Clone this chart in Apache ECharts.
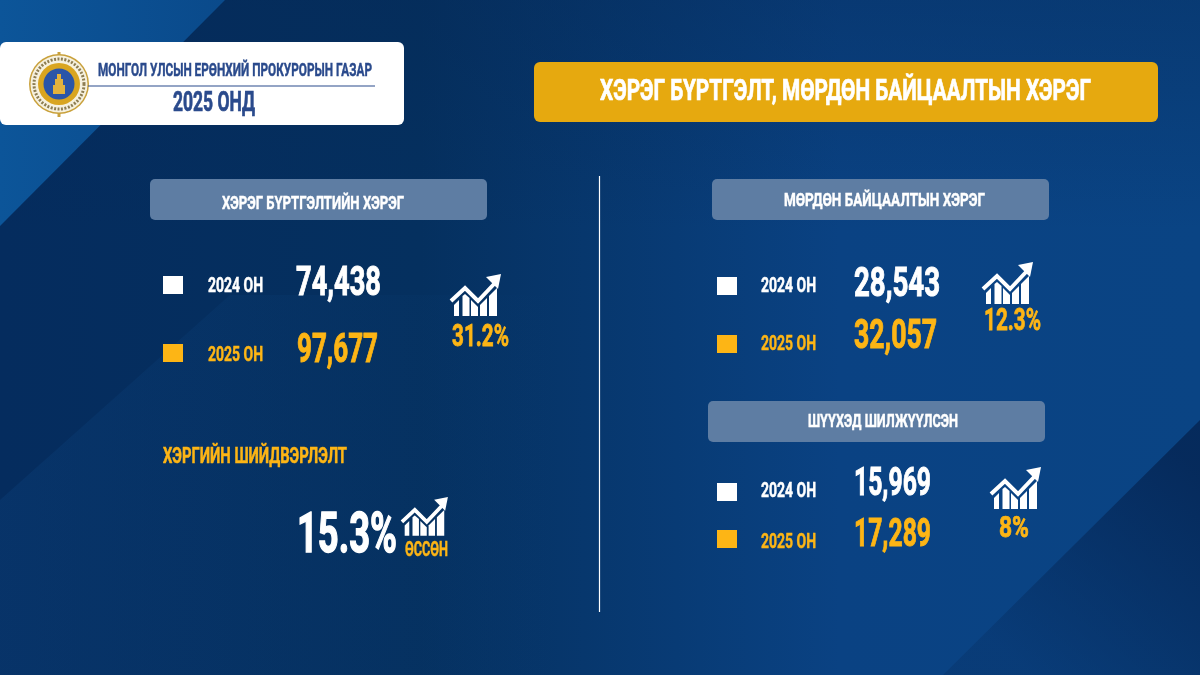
<!DOCTYPE html>
<html>
<head>
<meta charset="utf-8">
<style>html,body{margin:0;padding:0;background:#0b3a73}#chart{width:1200px;height:675px}</style>
<script src="https://cdn.jsdelivr.net/npm/echarts@6/dist/echarts.min.js"></script>
</head>
<body>
<div id="chart"></div>
<script>
// values
const agencyTitle = "МОНГОЛ УЛСЫН ЕРӨНХИЙ ПРОКУРОРЫН ГАЗАР";
const yearTitle = "2025 ОНД";
const mainTitle = "ХЭРЭГ БҮРТГЭЛТ, МӨРДӨН БАЙЦААЛТЫН ХЭРЭГ";
const sectionTitles = ["ХЭРЭГ БҮРТГЭЛТИЙН ХЭРЭГ", "МӨРДӨН БАЙЦААЛТЫН ХЭРЭГ", "ШҮҮХЭД ШИЛЖҮҮЛСЭН"];
const yearLabels = ["2024 ОН", "2025 ОН"];
const values2024 = ["74,438", "28,543", "15,969"];
const values2025 = ["97,677", "32,057", "17,289"];
const growth = ["31.2%", "12.3%", "8%"];
const resolutionTitle = "ХЭРГИЙН ШИЙДВЭРЛЭЛТ";
const resolutionValue = "15.3%";
const resolutionNote = "ӨССӨН";

const WHITE = "#ffffff", GOLD = "#fdb515", NAVY = "#2a4a8c";
const FONT = "Roboto";

// condensed look: the font is squeezed until the text fits the given width
const ctx = document.createElement("canvas").getContext("2d");
function label(str, x, y, size, color, width) {
  const font = "bold " + size + "px " + FONT;
  ctx.font = font;
  const sx = width / ctx.measureText(str).width;
  return {
    type: "text", x: x, y: y + 1.5, scaleX: sx,
    style: { text: str, fill: color, font: font, verticalAlign: "middle", stroke: color, lineWidth: size * 0.025 }
  };
}
function box(x, y, w, h, fill, r) {
  return { type: "rect", shape: { x: x, y: y, width: w, height: h, r: r || 0 }, style: { fill: fill } };
}
function poly(points, fill) {
  return { type: "polygon", shape: { points: points }, style: { fill: fill } };
}
function ring(cx, cy, r, fill) {
  return { type: "circle", shape: { cx: cx, cy: cy, r: r }, style: { fill: fill } };
}
function grad(x0, y0, x1, y1, stops) {
  return new echarts.graphic.LinearGradient(x0, y0, x1, y1, stops.map(function (s) {
    return { offset: s[0], color: s[1] };
  }));
}

// rising bars with arrow, (x, y) is the top left of a 50x42 icon
function trendIcon(x, y, k) {
  const kids = [
    poly([[4, 31], [9, 26], [9, 42], [4, 42]], WHITE),
    poly([[12.5, 22], [15, 20], [19.5, 24], [19.5, 42], [12.5, 42]], WHITE),
    poly([[21, 26], [28, 33], [28, 42], [21, 42]], WHITE),
    poly([[30, 31], [37, 24], [37, 42], [30, 42]], WHITE),
    poly([[39, 22], [47, 14], [47, 42], [39, 42]], WHITE),
    { type: "polyline", shape: { points: [[1, 27], [15, 14], [28, 27], [45, 9]] },
      style: { stroke: WHITE, lineWidth: 4, fill: null } },
    poly([[36, 3], [51, 0], [48, 15]], WHITE)
  ];
  return { type: "group", x: x, y: y, scaleX: k, scaleY: k, children: kids };
}

function statRow(sq, sqY, labelX, labelY, numX, numY, numW, numSize, color, yearIdx, value) {
  return [
    box(sq, sqY, 20, 18, color),
    label(yearLabels[yearIdx], labelX, labelY, 20, color, 55),
    label(value, numX, numY, numSize, color, numW)
  ];
}

const background = [
  { type: "rect", shape: { x: 0, y: 0, width: 1200, height: 675 },
    style: { fill: grad(0, 0, 1, 0, [[0, "#052c5e"], [0.35, "#05305f"], [0.7, "#0a4283"], [1, "#0a4484"]]) } },
  { type: "rect", shape: { x: 0, y: 0, width: 1200, height: 230 },
    style: { fill: grad(0, 0, 0, 1, [[0, "rgba(5,40,85,0.35)"], [1, "rgba(5,40,85,0)"]]) } },
  poly([[0, 0], [225, 0], [0, 226]], grad(0, 0, 1, 0, [[0, "#0c5599"], [1, "#0a4a8b"]])),
  poly([[0, 500], [230, 295], [560, 295], [560, 675], [0, 675]],
    grad(0, 0, 1, 0, [[0, "rgba(20,90,160,0.16)"], [1, "rgba(20,90,160,0)"]])),
  poly([[1200, 420], [1200, 675], [943, 675]], grad(1, 0.2, 0.35, 1, [[0, "rgba(5,38,85,0.85)"], [1, "rgba(5,38,85,0.25)"]]))
];

const logo = [
  box(57.5, 52, 3, 65, "#c9a13c"),
  ring(59, 84, 30, "#c9a13c"),
  ring(59, 84, 28.5, "#f6f1df"),
  { type: "circle", shape: { cx: 59, cy: 84, r: 25 }, style: { fill: null, stroke: "#8d7d52", lineWidth: 3, lineDash: [2, 1.5] } },
  ring(59, 84, 21, "#d9a520"),
  ring(59, 84, 15.5, "#2a55a8"),
  box(53, 85, 12, 9, "#e3b23c"),
  box(55, 79, 8, 6, "#e3b23c"),
  box(57, 74, 4, 5, "#e3b23c")
];

const header = [
  box(0, 42, 404, 83, WHITE, 6),
  ...logo,
  label(agencyTitle, 98, 70, 18, NAVY, 274),
  { type: "line", shape: { x1: 88, y1: 86, x2: 375, y2: 86 }, style: { stroke: NAVY, lineWidth: 1.2 } },
  label(yearTitle, 173, 102, 28, NAVY, 82),
  box(534, 62, 624, 60, "#e6a90f", 6),
  label(mainTitle, 600, 91, 29, WHITE, 491)
];

const sections = [
  box(150, 179, 337, 41, "#5e7da3", 5),
  label(sectionTitles[0], 222, 203, 19, WHITE, 182),
  box(712, 179, 337, 41, "#5e7da3", 5),
  label(sectionTitles[1], 784, 200, 19, WHITE, 201),
  box(708, 401, 337, 41, "#5e7da3", 5),
  label(sectionTitles[2], 808, 421, 19, WHITE, 150),
  { type: "line", shape: { x1: 599.5, y1: 176, x2: 599.5, y2: 612 }, style: { stroke: WHITE, lineWidth: 1.2 } }
];

const stats = [
  ...statRow(163, 276, 208, 285, 296, 283, 85, 40, WHITE, 0, values2024[0]),
  ...statRow(163, 344, 208, 354, 297, 350, 81, 40, GOLD, 1, values2025[0]),
  trendIcon(450, 274, 1),
  label(growth[0], 452, 336, 32, GOLD, 57),

  ...statRow(717, 277, 761, 285, 854, 284, 86, 40, WHITE, 0, values2024[1]),
  ...statRow(717, 335, 761, 343, 854, 336, 83, 40, GOLD, 1, values2025[1]),
  trendIcon(982, 262, 1),
  label(growth[1], 984, 320, 32, GOLD, 57),

  ...statRow(717, 483, 761, 490, 854, 484, 77, 38, WHITE, 0, values2024[2]),
  ...statRow(717, 530, 761, 541, 854, 535, 77, 38, GOLD, 1, values2025[2]),
  trendIcon(990, 467, 1),
  label(growth[2], 999, 528, 30, GOLD, 30),

  label(resolutionTitle, 163, 456, 22, GOLD, 184),
  label(resolutionValue, 297, 536, 56, WHITE, 100),
  trendIcon(401, 497, 0.92),
  label(resolutionNote, 405, 549, 20, GOLD, 43)
];

const chart = echarts.init(document.getElementById("chart"));
chart.setOption({
  animation: false,
  graphic: { elements: [...background, ...header, ...sections, ...stats] }
});
</script>
</body>
</html>
